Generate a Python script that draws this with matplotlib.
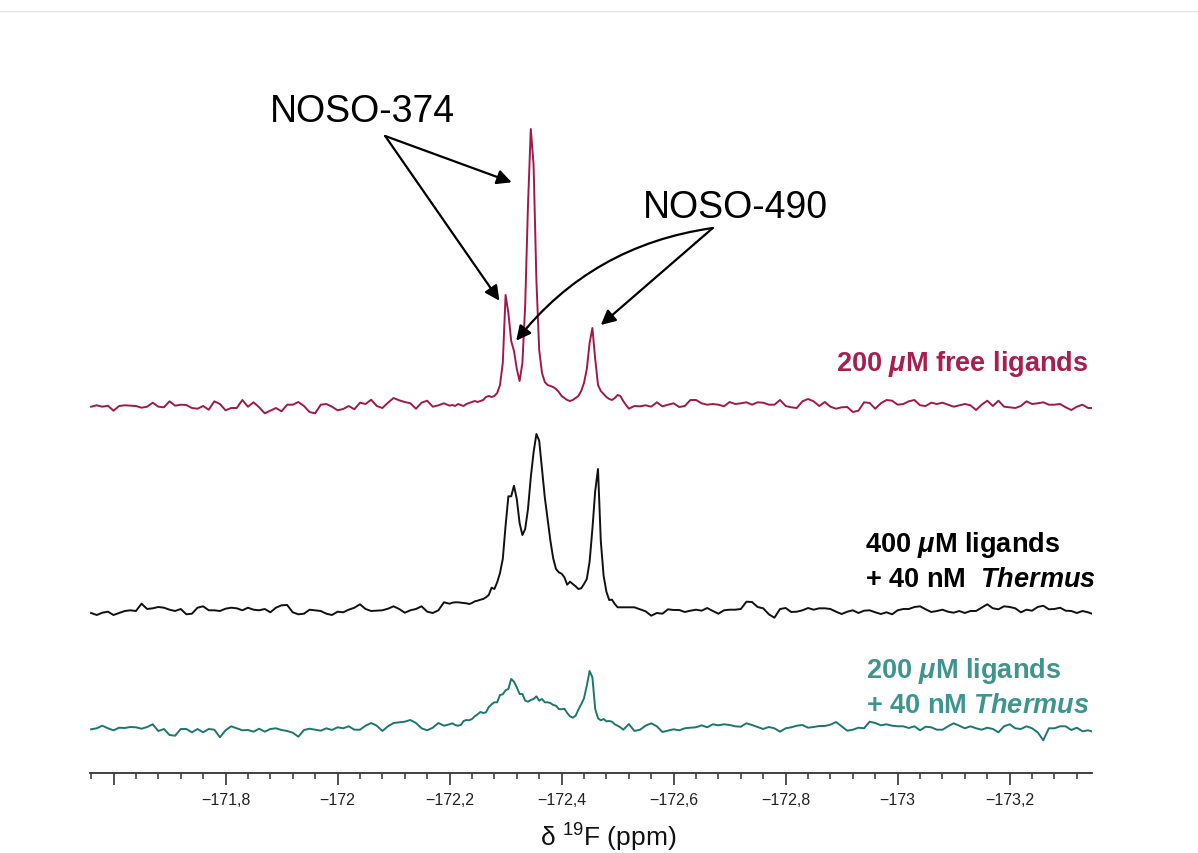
import numpy as np
import matplotlib
matplotlib.use("Agg")
import matplotlib.pyplot as plt
from matplotlib.ticker import MultipleLocator, FuncFormatter
from matplotlib.lines import Line2D

plt.rcParams["font.family"] = ["Liberation Sans", "DejaVu Sans"]
plt.rcParams["mathtext.fontset"] = "custom"
plt.rcParams["mathtext.rm"] = "Liberation Sans"
plt.rcParams["mathtext.it"] = "Liberation Sans:italic:bold"
plt.rcParams["mathtext.bf"] = "Liberation Sans:bold"

W, H = 1198, 854

# %% Data: intensities (arbitrary units above each baseline)
# chemical shift segments (ppm): baseline left, peak region, baseline right
seg_a = (-171.56, -172.20)
seg_b = (-172.205, -172.515)
seg_c = (-172.52, -173.35)

red_a = [-1.7, -0.3, -1.7, -0.7, -5.7, -1.0, -0.3, -0.7, -1.0, -2.7,
         -1.7, 2.3, -1.7, -2.3, 3.7, -0.7, 0.3, 0.0, -3.0, -3.7,
         -1.0, -4.7, 3.7, 1.0, -5.3, -3.0, -3.0, 5.0, -1.7, 2.7,
         -2.3, -8.3, -5.7, -3.0, -6.3, 0.3, 0.3, 3.0, -1.0, -7.0,
         -8.3, 0.3, 1.0, -1.7, -5.3, -4.0, -1.0, -4.3, 2.3, 1.0,
         5.3, -1.0, -3.0, 2.3, 7.0, 4.7, 3.0, 1.7, -3.7, 2.3,
         4.3, -1.7, -0.3, 1.7, -0.7]
red_b = [0, -1, 1, 0, -1, 1, 2, 3, 4, 3,
         4, 5, 8, 9, 8, 9, 12, 20, 42, 110,
         92, 64, 54, 36, 24, 42, 100, 200, 276, 240,
         125, 55, 32, 23, 20, 19, 18, 16, 13, 9,
         7, 5, 4, 5, 7, 9, 14, 22, 36, 62,
         77, 46, 20, 14, 11, 8, 6, 5, 7, 10,
         9, 4, 0]
red_c = [-3.7, -1.0, -1.3, -0.3, -1.7, 2.7, -1.3, 0.3, 1.7, -2.0,
         -1.0, 5.0, 5.0, 1.7, 0.3, 1.0, 0.3, -1.3, 3.0, 1.0,
         1.7, 2.7, 0.3, 2.7, 2.3, 0.3, 0.3, 5.0, -1.0, -2.3,
         -3.0, 3.7, 6.0, 3.7, -1.0, 3.0, -1.7, -3.7, -2.3, -2.0,
         -7.0, -5.7, 2.7, 2.0, -3.7, 1.7, 5.0, 4.3, 0.3, 1.0,
         3.7, 5.0, -0.3, -1.0, 2.3, 1.0, 2.3, 0.3, -1.7, -0.3,
         1.0, -0.3, -5.0, 0.3, 4.3, -1.0, 4.3, -1.7, -2.3, -3.0,
         -1.0, 3.7, 1.0, 1.7, 2.7, 0.3, 0.3, 1.0, -2.3, -5.0,
         -1.7, 0.3, -3.0, -3.0]

black_a = [-2.0, -4.0, -1.7, -0.7, -4.0, -2.0, 0.0, 0.7, 0.0, 7.3,
           2.0, 2.7, 4.0, 3.3, 1.3, 0.0, 2.0, -3.3, -2.7, 3.3,
           4.7, 0.7, 0.7, 0.0, 2.3, 3.3, 2.7, 0.7, 3.3, 1.3,
           0.7, 2.0, -1.3, 3.3, 5.7, 6.0, -1.3, -3.3, -2.7, 1.3,
           0.7, 0.0, -2.7, -4.0, -0.7, -1.3, 1.3, 3.3, 6.7, 2.0,
           0.0, 0.3, 0.7, 2.3, 4.7, 2.0, -1.7, 0.7, 2.0, 4.7,
           -0.7, -2.0, 0.7, 8.7, 7.3]
black_b = [8.3, 8.7, 8.7, 8.3, 8.0, 7.7, 7.0, 8.0, 9.7, 10.3,
           11.3, 12.0, 13.7, 16.0, 23.3, 22.0, 28.7, 38.0, 52.0, 85.3,
           114.7, 114.7, 125.3, 112.0, 88.0, 76.0, 82.0, 102.0, 133.7, 158.7,
           177.0, 170.3, 142.0, 113.7, 92.0, 70.3, 52.7, 42.0, 38.7, 37.3,
           33.7, 26.3, 29.3, 27.0, 24.7, 22.0, 22.7, 27.0, 32.0, 49.3,
           82.0, 120.0, 142.0, 70.0, 35.3, 19.3, 11.0, 11.3, 7.0, 3.7,
           3.7, 3.7, 3.7]
black_c = [3.7, 3.7, 1.7, -0.3, -4.7, -2.0, -2.7, 1.7, 1.0, 1.0,
           -1.0, 0.3, 1.3, 0.3, 3.0, 0.0, -2.7, 0.7, 1.3, 1.3,
           2.0, 9.3, 9.0, 4.0, 2.7, -3.3, -6.7, 2.0, 3.0, -1.0,
           -0.7, 0.7, 3.0, 1.3, 2.7, 2.7, 2.0, -0.7, -3.0, -0.7,
           0.7, -2.0, 0.3, 0.7, -1.3, -3.0, -1.3, -3.3, 0.7, 2.0,
           2.0, 4.0, 4.7, 1.7, -1.0, 0.0, 1.3, -0.7, -1.7, 0.0,
           -2.0, 0.0, 0.0, 3.3, 6.7, 2.7, 1.7, 4.7, 4.0, 2.7,
           -1.3, 1.3, 0.3, 4.0, 5.3, 1.7, 2.0, 3.3, 0.3, 0.0,
           -2.0, 0.0, -1.3, -3.3]

teal_a = [0.7, 1.7, 4.3, 1.7, -0.3, 2.3, 2.0, 3.0, 2.7, 1.3,
          3.0, 5.7, -1.0, 1.0, -5.0, -5.7, 1.0, 1.0, -2.3, 1.0,
          -2.3, 1.0, 0.3, -7.3, -0.3, 3.7, 1.7, -0.3, 0.0, -1.7,
          1.3, -1.7, 1.0, 1.7, 0.0, -1.0, -2.7, -6.7, 0.0, 1.3,
          0.3, -0.7, 1.7, 0.0, 2.7, 1.7, 3.7, 0.3, 0.3, 4.3,
          7.0, 4.3, -1.0, 3.7, 7.0, 7.7, 8.3, 10.0, 7.0, 1.7,
          -0.3, 2.3, 7.0, 4.3, 5.7]
teal_b = [6.7, 5.0, 4.3, 5.0, 9.0, 10.0, 9.7, 11.0, 13.7, 15.7,
          18.0, 17.0, 17.7, 23.0, 25.7, 27.7, 27.7, 35.0, 35.7, 39.7,
          41.0, 51.0, 48.3, 42.7, 36.0, 36.0, 29.3, 28.3, 30.0, 31.0,
          33.7, 29.3, 31.0, 27.7, 27.7, 27.0, 25.0, 24.3, 21.0, 20.7,
          21.3, 17.0, 13.7, 12.3, 14.3, 20.3, 25.7, 31.7, 44.3, 59.0,
          52.7, 21.0, 11.7, 9.7, 11.0, 8.7, 9.0, 8.3, 5.7, 4.3,
          2.7, 0.3, 3.0]
teal_c = [6.0, -1.0, 0.3, 4.3, 6.7, 3.7, -2.0, -0.7, 0.7, -0.3,
          1.7, 2.3, 2.7, 4.7, 2.7, 5.7, 4.7, 5.7, 5.0, 3.7,
          3.3, 6.7, 5.0, 3.0, 1.0, 3.0, 1.7, -1.7, 1.7, 2.7,
          4.3, 5.0, 2.3, 3.0, 4.0, 4.0, 5.3, 8.0, 3.7, -0.7,
          0.3, 2.3, 1.7, 8.3, 7.0, 4.7, 5.7, 4.3, 3.7, 3.7,
          2.0, 3.7, -0.3, 3.3, 2.7, 0.3, 0.3, 3.7, 6.7, 4.3,
          1.7, 3.7, 1.7, 0.3, 2.3, 1.0, -2.3, 3.7, 5.7, 1.7,
          1.0, 3.7, 1.7, -2.3, -10.3, 1.7, 1.7, 3.7, 3.7, 0.0,
          2.3, -1.3, -0.3, -2.0]

# vertical offsets of the three stacked spectra
offsets = {"red": -406, "black": -612, "teal": -731}
colors = {"red": "#a3184b", "black": "#111111", "teal": "#1c7771"}
text_colors = {"red": "#a61f50", "black": "#000000", "teal": "#3e958f"}


def spectrum(a, b, c):
    x = np.concatenate([np.linspace(*seg_a, len(a)),
                        np.linspace(*seg_b, len(b)),
                        np.linspace(*seg_c, len(c))])
    y = np.concatenate([a, b, c])
    return x, y


def fxy(px, py):
    return px / W, 1 - py / H


# %% Figure
fig = plt.figure(figsize=(W / 100, H / 100), dpi=100)
ax = fig.add_axes([90 / W, 1 - 774 / H, 1002 / W, (774 - 100) / H])

for key, (a, b, c) in {"red": (red_a, red_b, red_c),
                       "black": (black_a, black_b, black_c),
                       "teal": (teal_a, teal_b, teal_c)}.items():
    x, y = spectrum(a, b, c)
    ax.plot(x, y + offsets[key], color=colors[key], lw=1.4, solid_joinstyle="round")

ax.set_xlim(-171.558, -173.347)
ax.set_ylim(-774, -100)

for s in ["left", "right", "top"]:
    ax.spines[s].set_visible(False)
ax.spines["bottom"].set_color("#333333")
ax.spines["bottom"].set_linewidth(1.3)
ax.set_yticks([])


def ppm_fmt(v, pos):
    t = round(v, 1)
    if abs(t + 171.6) < 1e-6:
        return ""
    s = ("%.1f" % abs(t)).rstrip("0").rstrip(".")
    return "\u2212" + s.replace(".", ",")


ax.xaxis.set_major_locator(MultipleLocator(0.2))
ax.xaxis.set_minor_locator(MultipleLocator(0.04))
ax.xaxis.set_major_formatter(FuncFormatter(ppm_fmt))
ax.tick_params(axis="x", which="major", direction="out", length=8.5, width=1.2,
               colors="#333333", labelsize=11.5, pad=5, labelcolor="#222222")
ax.tick_params(axis="x", which="minor", direction="out", length=4.5, width=1.1,
               colors="#333333")

# axis label, kept just inside the bottom edge
fig.text(*fxy(608, 847), "δ $^{\\mathrm{19}}$F (ppm)", ha="center", va="baseline",
         fontsize=19, color="#111111")

# %% Sample labels
lab_kw = dict(fontsize=19.5, fontweight="bold", va="baseline", ha="left")
fig.text(*fxy(836, 371), "200 $\\mu$M free ligands", color=text_colors["red"], **lab_kw)
fig.text(*fxy(865, 552), "400 $\\mu$M ligands", color=text_colors["black"], **lab_kw)
fig.text(*fxy(865, 587), "+ 40 nM  $\\mathit{Thermus}$", color=text_colors["black"], **lab_kw)
fig.text(*fxy(866, 678), "200 $\\mu$M ligands", color=text_colors["teal"], **lab_kw)
fig.text(*fxy(866, 713), "+ 40 nM $\\mathit{Thermus}$", color=text_colors["teal"], **lab_kw)

# %% Peak assignments
ax.text(-172.044, -122, "NOSO-374", fontsize=27, ha="center", va="baseline")
ax.text(-172.71, -218, "NOSO-490", fontsize=27, ha="center", va="baseline")

arrow_kw = dict(arrowstyle="-|>", color="black", lw=1.6, mutation_scale=22,
                shrinkA=0, shrinkB=0)
ax.annotate("", xy=(-172.289, -301.7), xytext=(-172.085, -137), arrowprops=arrow_kw)
ax.annotate("", xy=(-172.311, -183.3), xytext=(-172.085, -137), arrowprops=arrow_kw)
ax.annotate("", xy=(-172.319, -341.7), xytext=(-172.670, -229),
            arrowprops=dict(arrow_kw, connectionstyle="arc3,rad=0.2"))
ax.annotate("", xy=(-172.470, -326), xytext=(-172.670, -229), arrowprops=arrow_kw)

# thin frame line at the top of the screenshot
fig.add_artist(Line2D([0, 1], [1 - 12 / H] * 2, color="#e4e4e4", lw=1))

fig.savefig("out.png", dpi=100, facecolor="white")
